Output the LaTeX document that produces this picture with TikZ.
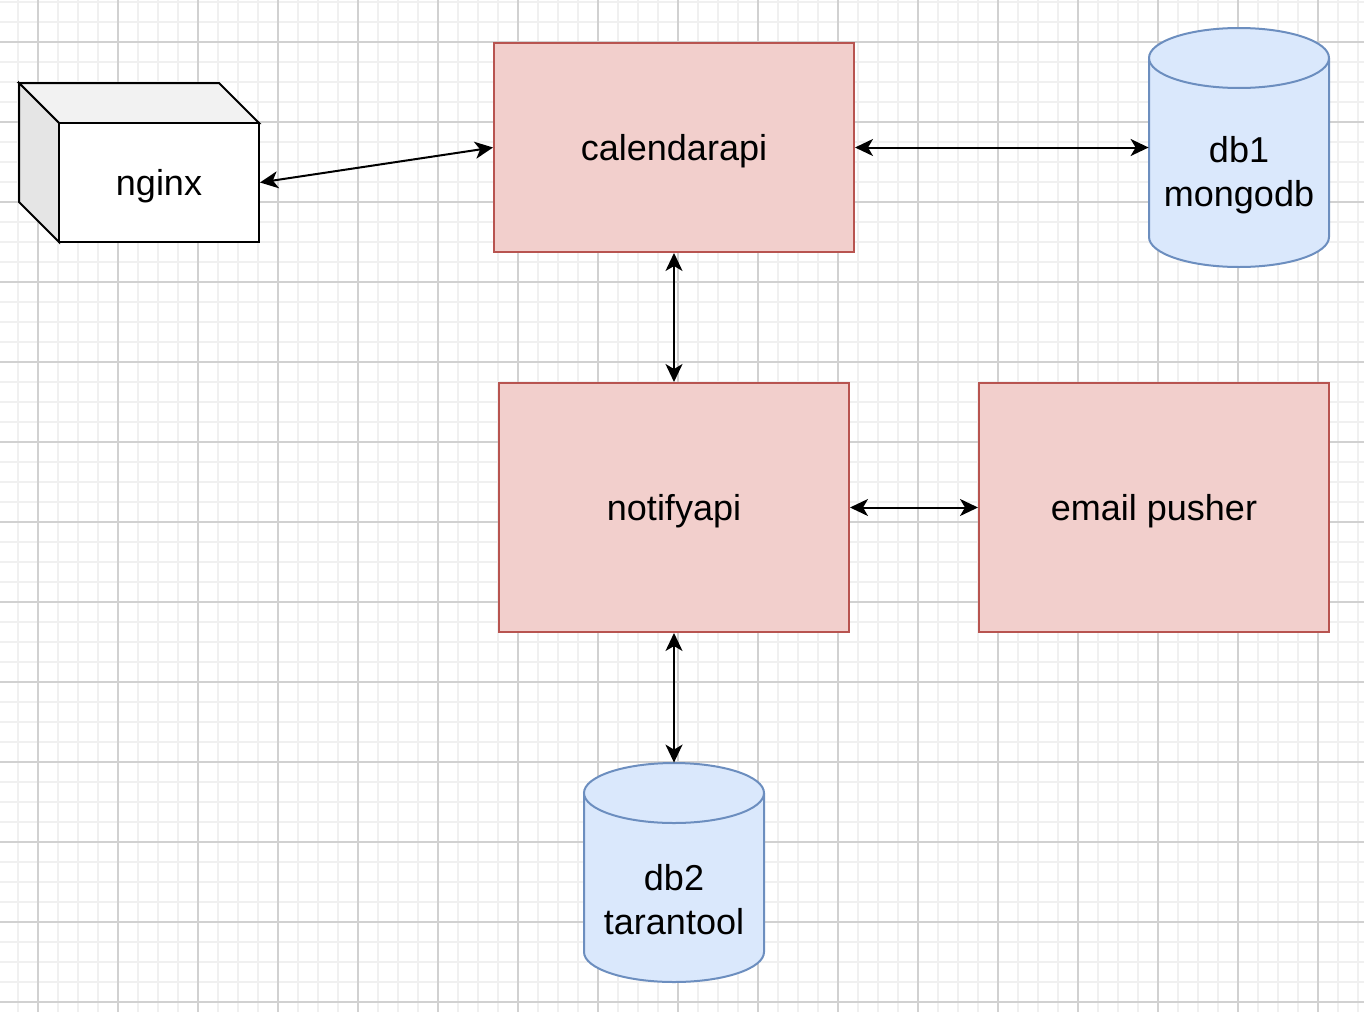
\documentclass[tikz,border=0pt]{standalone}
\usepackage{fontspec}
\setmainfont{Liberation Sans}
\usetikzlibrary{arrows.meta}
\definecolor{svcfill}{HTML}{F2CFCC}
\definecolor{svcline}{HTML}{B85450}
\definecolor{dbfill}{HTML}{DAE8FC}
\definecolor{dbline}{HTML}{6C8EBF}
\begin{document}
\begin{tikzpicture}[x=0.5pt,y=-0.5pt,font=\fontsize{18pt}{22pt}\selectfont,
  svc/.style={draw=svcline,fill=svcfill,line width=1pt,text depth=0pt},
  store/.style={draw=dbline,fill=dbfill,line width=1pt},
  link/.style={line width=1pt,{Stealth[length=9pt,width=8.5pt,inset=2.5pt]}-{Stealth[length=9pt,width=8.5pt,inset=2.5pt]}}]
\useasboundingbox (0,0) rectangle (1364,1012);
\fill[white] (0,0) rectangle (1364,1012);
% grid
\foreach \x in {18,38,...,1358} \draw[line width=1pt,black!6] (\x,0) -- (\x,1012);
\foreach \y in {2,22,...,1002} \draw[line width=1pt,black!6] (0,\y) -- (1364,\y);
\foreach \x in {38,118,...,1358} \draw[line width=0.6pt,black!18] (\x,0) -- (\x,1012);
\foreach \y in {42,122,...,1002} \draw[line width=0.6pt,black!18] (0,\y) -- (1364,\y);

% nginx box
\draw[line width=1pt,fill=black!5] (19,83) -- (219,83) -- (259,123) -- (59,123) -- cycle;
\draw[line width=1pt,fill=black!10] (19,83) -- (59,123) -- (59,242) -- (19,202) -- cycle;
\node[draw,line width=1pt,fill=white,text depth=0pt,minimum width=100pt,minimum height=59.5pt] (nginx) at (159,182.5) {nginx};

% services
\node[svc,minimum width=180pt,minimum height=104.5pt] (calendarapi) at (674,147.5) {calendarapi};
\node[svc,minimum width=175pt,minimum height=124.5pt] (notifyapi) at (674,507.5) {notifyapi};
\node[svc,minimum width=175pt,minimum height=124.5pt] (pusher) at (1154,507.5) {email pusher};

% databases
\draw[store] (1149,58) -- (1149,237) arc[start angle=180,end angle=0,x radius=90,y radius=30] -- (1329,58);
\draw[store] (1239,58) ellipse[x radius=90,y radius=30];
\node[minimum width=90pt,minimum height=119.5pt] (db1) at (1239,147.5) {};
\node[align=center] (db1text) at (1239,175) {db1\\mongodb};

\draw[store] (584,793) -- (584,952) arc[start angle=180,end angle=0,x radius=90,y radius=30] -- (764,793);
\draw[store] (674,793) ellipse[x radius=90,y radius=30];
\node[minimum width=90pt,minimum height=109.5pt] (db2) at (674,872.5) {};
\node[align=center] (db2text) at (674,900) {db2\\tarantool};

% links
\draw[link] (nginx.east) -- (calendarapi.west);
\draw[link] (calendarapi.east) -- (db1.west);
\draw[link] (calendarapi.south) -- (notifyapi.north);
\draw[link] (notifyapi.east) -- (pusher.west);
\draw[link] (notifyapi.south) -- (db2.north);
\end{tikzpicture}
\end{document}
